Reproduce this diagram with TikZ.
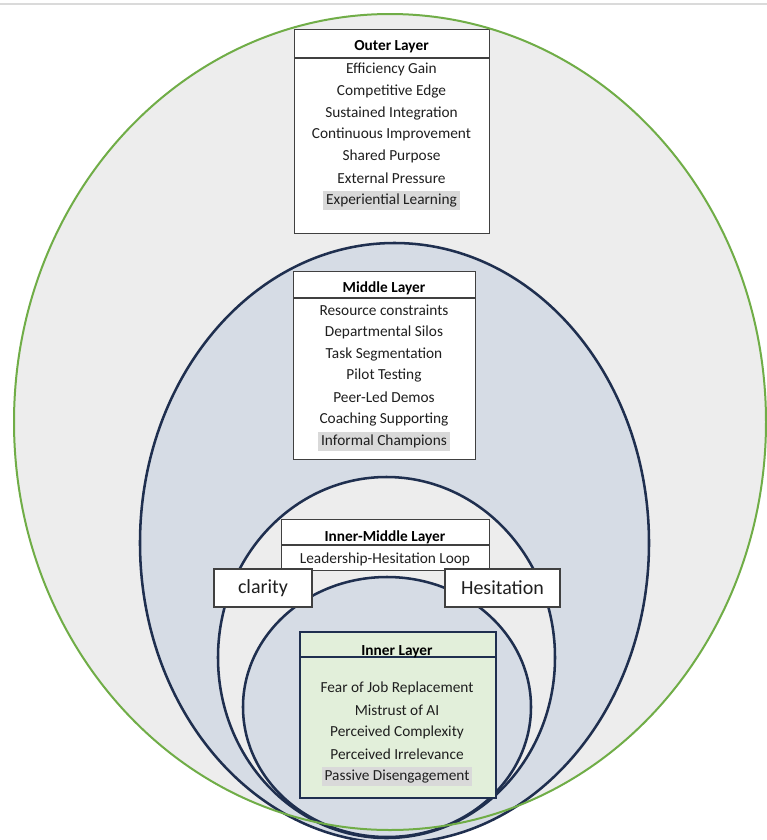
\documentclass[tikz,border=0pt]{standalone}
\usepackage{fontspec}
\setmainfont{Carlito}
\definecolor{ringgreen}{HTML}{70AD47}
\definecolor{ringnavy}{HTML}{1F2F4F}
\definecolor{palegray}{HTML}{EDEDED}
\definecolor{paleblue}{HTML}{D6DCE5}
\definecolor{palegreen}{HTML}{E2EFDA}
\definecolor{hlgray}{HTML}{D9D9D9}
\definecolor{boxline}{HTML}{404040}
\definecolor{rulegray}{HTML}{DADADA}
\newlength\pxu
\setlength\pxu{0.75pt}
\newcommand\itemfont{\fontsize{11.5}{14}\selectfont}
\newcommand\headfont{\fontsize{11.5}{14}\selectfont\bfseries}
\newcommand\bigfont{\fontsize{15}{18}\selectfont}
\tikzset{
  ring/.style={draw=ringnavy, line width=1.9pt},
  layerbox/.style={draw=boxline, fill=white, line width=1.1pt, inner sep=0pt, anchor=north west},
  divider/.style={draw=boxline, line width=1.1pt},
  head/.style={font=\headfont, text=black, inner sep=1pt, yshift=-1.1pt},
  item/.style={font=\itemfont, text=black!88, inner sep=1pt, yshift=-1.1pt},
  hlitem/.style={item, fill=hlgray, inner xsep=2pt, inner ysep=2.2pt},
  tagbox/.style={draw=boxline, fill=white, line width=1.1pt, inner sep=0pt, font=\bigfont, text=black!88}
}
\begin{document}
\begin{tikzpicture}[x=0.75pt, y=-0.75pt]
\useasboundingbox (0,0) rectangle (767,840);
\fill[white] (0,0) rectangle (767,840);

% thin rule along the top
\coordinate (ruleL) at (0,4);
\coordinate (ruleR) at (767,4);
\draw[rulegray, line width=0.8pt] (ruleL) -- (ruleR);

% outer layer
\fill[palegray] (390,422) ellipse [x radius=376, y radius=408];
\node[layerbox, minimum width=195*\pxu, minimum height=204*\pxu] (outerbox) at (294,29) {};
\draw[divider] (outerbox.west |- 0,58) -- (outerbox.east |- 0,58);
\node[head] (oh) at (391.5,45) {Outer Layer};
\node[item] (o1) at (391.5,68) {Efficiency Gain};
\node[item] (o2) at (391.5,90) {Competitive Edge};
\node[item] (o3) at (391.5,112) {Sustained Integration};
\node[item] (o4) at (391.5,133) {Continuous Improvement};
\node[item] (o5) at (391.5,155) {Shared Purpose};
\node[item] (o6) at (391.5,177) {External Pressure};
\node[hlitem] (o7) at (391.5,199) {Experiential Learning};

% middle layer
\filldraw[ring, fill=paleblue] (394.5,543) ellipse [x radius=254.5, y radius=300];
\node[layerbox, minimum width=182*\pxu, minimum height=188*\pxu] (midbox) at (293,271) {};
\draw[divider] (midbox.west |- 0,298) -- (midbox.east |- 0,298);
\node[head] (mh) at (384,287) {Middle Layer};
\node[item] (m1) at (384,309) {Resource constraints};
\node[item] (m2) at (384,331) {Departmental Silos};
\node[item] (m3) at (384,353) {Task Segmentation};
\node[item] (m4) at (384,374) {Pilot Testing};
\node[item] (m5) at (384,396) {Peer-Led Demos};
\node[item] (m6) at (384,418) {Coaching Supporting};
\node[hlitem] (m7) at (384,440) {Informal Champions};

% inner-middle layer
\filldraw[ring, fill=palegray] (386.5,657.5) ellipse [x radius=168.5, y radius=180.5];
\node[layerbox, minimum width=208*\pxu, minimum height=51*\pxu] (imbox) at (281,519) {};
\draw[divider] (imbox.west |- 0,545) -- (imbox.east |- 0,545);
\node[head] (imh) at (385,536) {Inner-Middle Layer};
\node[item] (im1) at (385,558) {Leadership-Hesitation Loop};

% inner layer ring
\filldraw[ring, fill=paleblue] (387,707) ellipse [x radius=144, y radius=130];

% loop labels
\node[tagbox, minimum width=98*\pxu, minimum height=38*\pxu] (clarity) at (263,588) {clarity};
\node[tagbox, minimum width=115*\pxu, minimum height=38*\pxu] (hesit) at (502.5,588) {Hesitation};

% outline of the outer layer, over the inner rings
\draw[ringgreen, line width=1.5pt] (390,422) ellipse [x radius=376, y radius=408];

% inner layer box
\node[layerbox, draw=ringnavy, fill=palegreen, line width=1.8pt, minimum width=196*\pxu, minimum height=166*\pxu] (innerbox) at (299,631) {};
\draw[divider, draw=ringnavy, line width=1.3pt] (innerbox.west |- 0,657) -- (innerbox.east |- 0,657);
\node[head] (ih) at (397,650) {Inner Layer};
\node[item] (i1) at (397,687) {Fear of Job Replacement};
\node[item] (i2) at (397,709) {Mistrust of AI};
\node[item] (i3) at (397,731) {Perceived Complexity};
\node[item] (i4) at (397,753) {Perceived Irrelevance};
\node[hlitem] (i5) at (397,775) {Passive Disengagement};
\end{tikzpicture}
\end{document}
